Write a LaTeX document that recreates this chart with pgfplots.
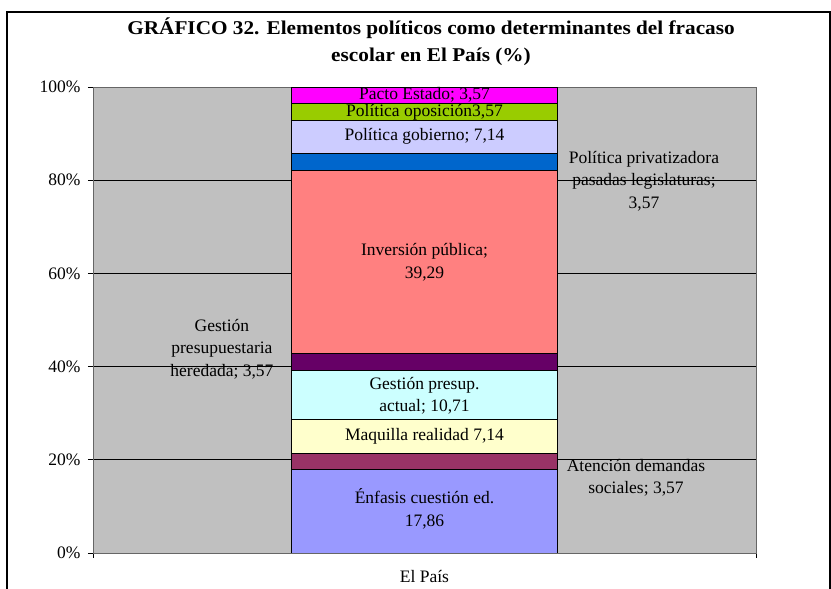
\documentclass[border=0pt]{standalone}
\usepackage{fontspec}
\setmainfont{Liberation Serif}
\newfontfamily\titlefont[FakeStretch=1.09]{Liberation Serif}
\usepackage{pgfplots}
\pgfplotsset{compat=1.18}
\definecolor{bgGray}{HTML}{C0C0C0}
\definecolor{cA}{HTML}{9999FF}
\definecolor{cB}{HTML}{993366}
\definecolor{cC}{HTML}{FFFFCC}
\definecolor{cD}{HTML}{CCFFFF}
\definecolor{cE}{HTML}{660066}
\definecolor{cF}{HTML}{FF8080}
\definecolor{cG}{HTML}{0066CC}
\definecolor{cH}{HTML}{CCCCFF}
\definecolor{cI}{HTML}{99CC00}
\definecolor{cJ}{HTML}{FF00FF}
\newcommand{\lab}{\fontsize{17.5}{22.5}\selectfont}
\pgfplotsset{base/.style={
  at={(93pt,36pt)}, anchor=south west,
  width=663pt, height=466pt, scale only axis,
  xmin=-1, xmax=1, ymin=0, ymax=100}}
\begin{document}
\begin{tikzpicture}[x=1pt,y=1pt]
\useasboundingbox (0,0) rectangle (831,589);
\draw[line width=1.2pt] (7,0) -- (7,577) -- (830,577) -- (830,0);
\node[font=\fontsize{19.5}{27}\titlefont\bfseries, align=center] at (431,547.5) {GRÁFICO 32. Elementos políticos como determinantes del fracaso\\escolar en El País (\%)};
\begin{axis}[
  base,
  ybar stacked, bar width=266pt,
  axis background/.style={fill=bgGray},
  axis line style={draw=black!60, line width=0.8pt},
  ymajorgrids, grid style={black, line width=0.6pt},
  ytick={0,20,40,60,80,100},
  yticklabel={\pgfmathprintnumber{\tick}\%},
  /pgf/number format/assume math mode=true,
  tick align=outside, major tick length=5pt,
  tick style={black, line width=0.6pt},
  xtick pos=bottom, ytick pos=left,
  xtick={-1,1}, xticklabels={},
  extra x ticks={0}, extra x tick labels={El País},
  extra x tick style={major tick length=0pt, grid=none},
  ticklabel style={font=\lab},
  xticklabel style={yshift=-14pt},
  yticklabel style={xshift=-4pt},
  every axis plot/.append style={draw=black, line width=0.8pt},
]
\addplot[fill=cA] coordinates {(0,17.86)};
\addplot[fill=cB] coordinates {(0,3.57)};
\addplot[fill=cC] coordinates {(0,7.14)};
\addplot[fill=cD] coordinates {(0,10.71)};
\addplot[fill=cE] coordinates {(0,3.57)};
\addplot[fill=cF] coordinates {(0,39.29)};
\addplot[fill=cG] coordinates {(0,3.57)};
\addplot[fill=cH] coordinates {(0,7.14)};
\addplot[fill=cI] coordinates {(0,3.57)};
\addplot[fill=cJ] coordinates {(0,3.57)};
\end{axis}
\begin{axis}[base, hide axis]
\node[font=\lab, align=center] at (axis cs:0,9.5) {Énfasis cuestión ed.\\17,86};
\node[font=\lab, align=center] at (axis cs:0,25.1) {Maquilla realidad 7,14};
\node[font=\lab, align=center] at (axis cs:0,33.7) {Gestión presup.\\actual; 10,71};
\node[font=\lab, align=center] at (axis cs:0,62.4) {Inversión pública;\\39,29};
\node[font=\lab, align=center] at (axis cs:0,89.5) {Política gobierno; 7,14};
\node[font=\lab, align=center] at (axis cs:0,94.6) {Política oposición3,57};
\node[font=\lab, align=center] at (axis cs:0,98.3) {Pacto Estado; 3,57};
\node[font=\lab, align=center] at (axis cs:-0.611,43.8) {Gestión\\presupuestaria\\heredada; 3,57};
\node[font=\lab, align=center] at (axis cs:0.662,79.8) {Política privatizadora\\pasadas legislaturas;\\3,57};
\node[font=\lab, align=center] at (axis cs:0.638,16.1) {Atención demandas\\sociales; 3,57};
\end{axis}
\end{tikzpicture}
\end{document}
